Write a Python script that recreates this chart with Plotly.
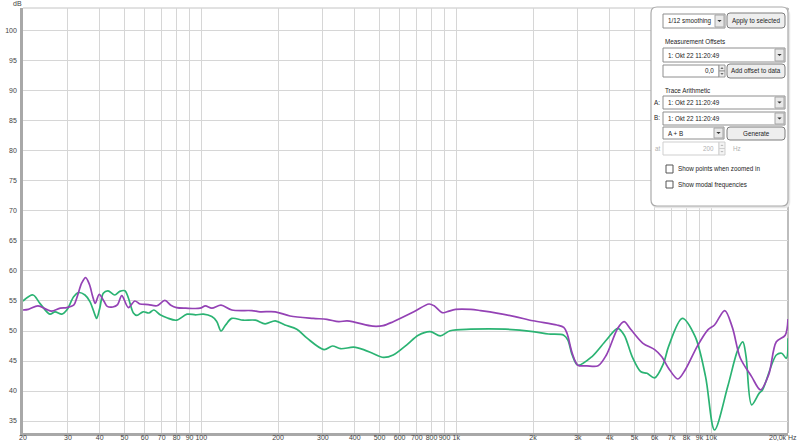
import math
import plotly.graph_objects as go

# ---------------- data ----------------
freq_purple = [20, 21, 22.9, 24.7, 25.9, 28, 29.7, 31.6, 32.5, 34.0, 35.2, 36.4, 37.5, 38.4, 39.8,
               41.5, 42.8, 45, 47, 48.8, 51.8, 54.9, 57.5, 62, 67, 72, 76, 80, 87, 99,
               103.8, 110, 119.6, 131.8, 158, 170, 195, 223, 275, 311, 346, 373, 406, 471, 517,
               566, 682, 782, 819, 881, 920, 995, 1140, 1246, 1460, 1700, 2000, 2480, 2640, 2720,
               2850, 3000, 3250, 3600, 3880, 4300, 4550, 4850, 5400, 6000, 6400, 6800, 7400, 7900,
               8800, 9700, 10300, 11300, 12100, 13000, 14400, 15600, 16800, 18000, 19500, 20000]
db_purple = [53.5, 53.6, 54.2, 53.6, 53.3, 53.8, 53.9, 54.3, 55.5, 58.0, 58.9, 57.8, 55.8, 54.6, 56.1,
             55.0, 54.1, 54.0, 54.4, 55.9, 53.9, 55.0, 54.5, 54.4, 54.2, 55.1, 54.3, 53.9, 53.8, 53.8,
             54.2, 53.8, 54.3, 53.5, 53.4, 53.2, 53.2, 52.5, 52.1, 51.95, 51.55, 51.7, 51.4, 50.8, 50.9,
             51.55, 53.2, 54.5, 54.2, 53.05, 53.2, 53.6, 53.6, 53.4, 52.95, 52.4, 51.7, 51.0, 50.6, 49.6,
             46.3, 44.3, 44.2, 44.2, 46.0, 50.45, 51.55, 50.2, 47.95, 46.9, 45.7, 43.8, 42.0, 43.5,
             47.4, 50.2, 51.0, 53.4, 50.6, 45.5, 42.4, 40.2, 42.7, 48.2, 49.3, 52.0]

freq_green = [20, 21.9, 23.3, 25.5, 26.7, 28.4, 29.7, 31.6, 33.0, 35.0, 36.6, 38.3, 38.9, 40, 41.3,
              43.1, 45.8, 47.9, 50.2, 51.8, 54.2, 55.9, 59.2, 62.3, 65.2, 69.0, 73.3, 80, 88, 95,
              102, 110, 115, 119.6, 124.6, 131.8, 146, 163, 178, 195, 213, 237, 260, 303, 327,
              352, 396, 433, 474, 518, 566, 640, 710, 790, 866, 947, 1140, 1560, 2000, 2300,
              2640, 2740, 2850, 3000, 3400, 3880, 4300, 4560, 4900, 5300, 5600, 6000, 6500, 6800,
              7700, 8650, 9500, 10300, 11600, 12700, 13300, 13700, 14400, 15400, 15900, 18000,
              18900, 19700, 20000]
db_green = [55.0, 56.0, 54.6, 52.8, 53.2, 52.8, 53.5, 55.7, 56.4, 56.0, 54.9, 52.7, 52.1, 53.8, 56.3,
            56.7, 56.0, 56.6, 56.7, 55.5, 53.0, 52.6, 53.2, 53.0, 53.5, 52.7, 52.2, 51.8, 52.8, 52.7,
            52.8, 52.4, 51.6, 50.0, 51.0, 52.1, 51.8, 51.8, 51.2, 51.7, 51.0, 50.3, 48.8, 46.9, 47.5,
            47.05, 47.3, 46.9, 46.2, 45.6, 46.0, 47.7, 49.3, 49.9, 49.2, 50.05, 50.3, 50.3, 49.9, 49.5,
            49.3, 48.5, 46.0, 44.3, 45.7, 48.5, 50.45, 49.3, 45.7, 43.2, 42.95, 42.2, 44.6, 47.4,
            52.1, 49.05, 42.4, 33.5, 40.7, 46.8, 48.2, 45.7, 37.7, 39.6, 40.2, 46.0,
            46.3, 45.45, 48.8]

x_tick_vals = [20, 30, 40, 50, 60, 70, 80, 90, 100, 200, 300, 400, 500, 600, 700, 800, 900,
               1000, 2000, 3000, 4000, 5000, 6000, 7000, 8000, 9000, 10000, 20000]
x_tick_text = ["20", "30", "40", "50", "60", "70", "80", "90", "100", "200", "300", "400", "500",
               "600", "700", "800", "900", "1k", "2k", "3k", "4k", "5k", "6k", "7k", "8k", "9k",
               "10k", ""]
y_tick_vals = [35, 40, 45, 50, 55, 60, 65, 70, 75, 80, 85, 90, 95, 100]

# ---------------- figure ----------------
fig = go.Figure()
fig.add_trace(go.Scatter(x=freq_green, y=db_green, mode="lines", hoverinfo="skip",
                         line=dict(color="#2bb373", width=1.7, shape="spline", smoothing=0.9)))
fig.add_trace(go.Scatter(x=freq_purple, y=db_purple, mode="lines", hoverinfo="skip",
                         line=dict(color="#9442b5", width=1.7, shape="spline", smoothing=0.9)))

L, R, T, B = 23, 788, 8, 433
W, H = R - L, B - T
FONT = "Liberation Sans, Arial, sans-serif"
PANEL_SIZE = 6.3


def fx(x):
    return (x - L) / W


def fy(y):
    return (B - y) / H


shapes = []
annotations = []


def rr_path(x0, y0, x1, y1, r):
    a, b, c, d = fx(x0), fx(x1), fy(y0), fy(y1)
    rx, ry = r / W, r / H
    return (f"M {a+rx},{c} L {b-rx},{c} Q {b},{c} {b},{c-ry} L {b},{d+ry} Q {b},{d} {b-rx},{d} "
            f"L {a+rx},{d} Q {a},{d} {a},{d+ry} L {a},{c-ry} Q {a},{c} {a+rx},{c} Z")


def add_rr(x0, y0, x1, y1, r, fill, line, lw=1.0):
    shapes.append(dict(type="path", xref="paper", yref="paper", path=rr_path(x0, y0, x1, y1, r),
                       fillcolor=fill, line=dict(color=line, width=lw), layer="above"))


def add_rect(x0, y0, x1, y1, fill, line, lw=1.0):
    shapes.append(dict(type="rect", xref="paper", yref="paper", x0=fx(x0), x1=fx(x1),
                       y0=fy(y1), y1=fy(y0), fillcolor=fill, line=dict(color=line, width=lw),
                       layer="above"))


def add_tri(cx, cy, s, down=True, color="#333333"):
    if down:
        pts = [(cx - s, cy - s / 2), (cx + s, cy - s / 2), (cx, cy + s / 2)]
    else:
        pts = [(cx - s, cy + s / 2), (cx + s, cy + s / 2), (cx, cy - s / 2)]
    p = "M " + " L ".join(f"{fx(px)},{fy(py)}" for px, py in pts) + " Z"
    shapes.append(dict(type="path", xref="paper", yref="paper", path=p, fillcolor=color,
                       line=dict(color=color, width=0), layer="above"))


def add_text(x, y, s, anchor="left", color="#222222", size=PANEL_SIZE):
    annotations.append(dict(x=fx(x), y=fy(y), xref="paper", yref="paper", text=s,
                            showarrow=False, xanchor=anchor, yanchor="middle",
                            font=dict(family=FONT, size=size, color=color)))


def combo(x0, y0, x1, y1, label):
    add_rect(x0, y0, x1, y1, "white", "#8e8e8e")
    add_rect(x1 - 10, y0 + 1, x1 - 1, y1 - 1, "#e8e8e8", "#a6a6a6")
    add_tri(x1 - 5.5, (y0 + y1) / 2, 2.2)
    add_text(x0 + 3, (y0 + y1) / 2, label)


def button(x0, y0, x1, y1, label):
    add_rr(x0, y0, x1, y1, 3, "#eeeeee", "#7c7c7c")
    add_text((x0 + x1) / 2, (y0 + y1) / 2, label, anchor="center")


def spinner(x0, y0, x1, y1, fill, line, tri_col):
    ym = (y0 + y1) / 2
    add_rect(x0, y0, x1, ym, fill, line)
    add_rect(x0, ym, x1, y1, fill, line)
    add_tri((x0 + x1) / 2, (y0 + ym) / 2, 1.6, down=False, color=tri_col)
    add_tri((x0 + x1) / 2, (ym + y1) / 2, 1.6, down=True, color=tri_col)


# plot frame top/right (light)
shapes.append(dict(type="line", xref="paper", yref="paper", x0=0, x1=1, y0=1, y1=1,
                   line=dict(color="#c4c4c4", width=1), layer="below"))
shapes.append(dict(type="line", xref="paper", yref="paper", x0=1, x1=1, y0=0, y1=1,
                   line=dict(color="#bdbdbd", width=2), layer="below"))

# control panel
add_rr(652, 9, 790, 208, 6, "#e6e6e6", "#e6e6e6", 0.5)
add_rr(651, 7, 788, 206, 6, "white", "#aaaaaa", 1.2)
combo(663, 14, 725, 28, "1/12 smoothing")
button(727, 13, 785, 28, "Apply to selected")
add_text(663, 42, "Measurement Offsets")
combo(663, 48, 785, 62, "1: Okt 22 11:20:49")
add_rect(663, 65, 719, 77, "white", "#8e8e8e")
add_text(716, 71, "0,0", anchor="right")
spinner(719, 65, 725, 77, "#ececec", "#9a9a9a", "#444444")
button(727, 64, 785, 78, "Add offset to data")
add_text(663, 90, "Trace Arithmetic")
add_text(652, 102.5, "A:")
combo(663, 96, 785, 109, "1: Okt 22 11:20:49")
add_text(652, 118, "B:")
combo(663, 112, 785, 125, "1: Okt 22 11:20:49")
combo(663, 127, 724, 139, "A + B")
button(727, 127, 785, 140, "Generate")
add_text(653, 148.5, "at", color="#b0b0b0")
add_rect(663, 142, 719, 155, "white", "#cfcfcf")
add_text(716, 148.5, "200", anchor="right", color="#b0b0b0")
spinner(719, 142, 725, 155, "#f4f4f4", "#cfcfcf", "#b8b8b8")
add_text(731, 148.5, "Hz", color="#b0b0b0")
add_rect(666, 165, 673, 173, "white", "#555555")
add_text(676, 169, "Show points when zoomed in")
add_rect(666, 181, 673, 188, "white", "#555555")
add_text(676, 184.5, "Show modal frequencies")

# axis unit labels
add_text(11, 3.5, "dB", color="#444444", size=7)
add_text(799, 437.5, "20,0k Hz", anchor="right", color="#444444", size=7)

tick_font = dict(family=FONT, size=7, color="#444444")
fig.update_layout(
    width=800, height=443,
    margin=dict(l=L, r=800 - R, t=T, b=443 - B, autoexpand=False),
    paper_bgcolor="white", plot_bgcolor="white",
    showlegend=False,
    shapes=shapes, annotations=annotations,
    xaxis=dict(type="log", range=[math.log10(20), math.log10(20000)],
               tickvals=x_tick_vals, ticktext=x_tick_text, tickfont=tick_font, tickangle=0,
               showgrid=True, gridcolor="#d6d6d6", gridwidth=1, automargin=False,
               showline=True, linecolor="#a8a8a8", linewidth=2.5, ticks="",
               zeroline=False, ticklabelstandoff=-4),
    yaxis=dict(range=[33, 103.83], tickvals=y_tick_vals, tickfont=tick_font, automargin=False,
               showgrid=True, gridcolor="#d6d6d6", gridwidth=1,
               showline=True, linecolor="#a8a8a8", linewidth=2.5, ticks="",
               zeroline=False, ticklabelstandoff=2),
)

fig.write_html("out.html", config={"displayModeBar": False},
               post_script="document.body.style.margin='0';document.body.style.overflow='hidden';")
